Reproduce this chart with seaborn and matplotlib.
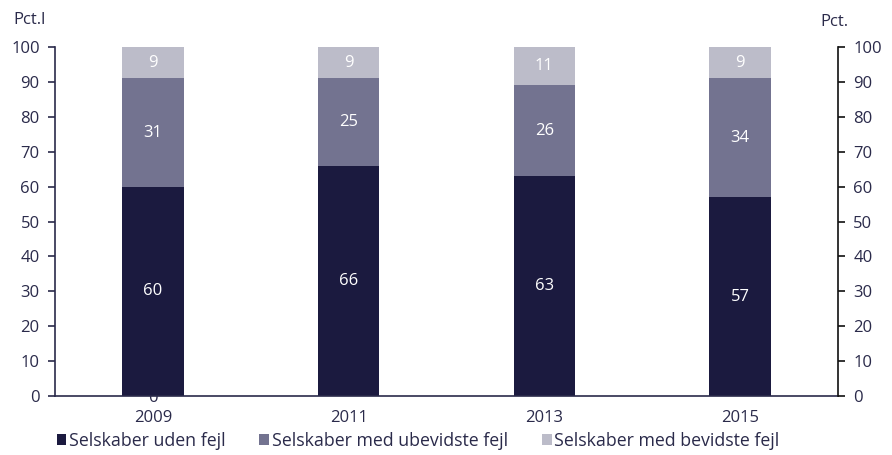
import matplotlib
matplotlib.use("Agg")
import matplotlib.pyplot as plt
import seaborn as sns
import pandas as pd
from matplotlib.patches import Patch

years = ["2009", "2011", "2013", "2015"]
uden_fejl = [60, 66, 63, 57]
ubevidste_fejl = [31, 25, 26, 34]
bevidste_fejl = [9, 9, 11, 9]
series_names = ["Selskaber uden fejl", "Selskaber med ubevidste fejl", "Selskaber med bevidste fejl"]
yticks = [0, 10, 20, 30, 40, 50, 60, 70, 80, 90, 100]

colors = ["#1b1a3f", "#737390", "#bcbcc9"]
text_col = "#2a2a4a"
fs = 12

sns.set_theme(style="white")
plt.rcParams["font.family"] = ["Open Sans", "DejaVu Sans"]

fig = plt.figure(figsize=(8.92, 4.55), dpi=100)
ax = fig.add_axes([55 / 892, 1 - 396 / 455, (838 - 55) / 892, (396 - 47) / 455])

df = pd.DataFrame({"year": years, "a": uden_fejl, "b": ubevidste_fejl, "c": bevidste_fejl})
df["ab"] = df["a"] + df["b"]
df["abc"] = df["ab"] + df["c"]

width = 0.315
# stacked bars drawn back to front as cumulative totals
for col, c in zip(["abc", "ab", "a"], colors[::-1]):
    sns.barplot(data=df, x="year", y=col, color=c, width=width, ax=ax,
                saturation=1, edgecolor="none", zorder=2)

# zero label peeking below the first bar
ax.text(0, -0.5, "0", ha="center", va="center", fontsize=fs, color=text_col, zorder=1,
        clip_on=False)

for i in range(len(years)):
    a, b, c = uden_fejl[i], ubevidste_fejl[i], bevidste_fejl[i]
    ax.text(i, a / 2, f"{a}", ha="center", va="center", color="white", fontsize=fs, zorder=3)
    ax.text(i, a + b / 2, f"{b}", ha="center", va="center", color="white", fontsize=fs, zorder=3)
    ax.text(i, a + b + c / 2, f"{c}", ha="center", va="center", color="white", fontsize=fs, zorder=3)

ax.set_xlim(-0.5, 3.5)
ax.set_ylim(0, 100)
ax.set_xlabel("")
ax.set_ylabel("")
ax.set_yticks(yticks)
ax.tick_params(axis="y", which="both", left=True, length=5, width=1.2,
               color=text_col, labelsize=fs, labelcolor=text_col, pad=6)
ax.tick_params(axis="x", bottom=False, labelsize=fs, labelcolor=text_col, pad=4)

for s in ["top", "right"]:
    ax.spines[s].set_visible(False)
ax.spines["left"].set_color(text_col)
ax.spines["left"].set_linewidth(1.2)
ax.spines["bottom"].set_color(text_col)
ax.spines["bottom"].set_linewidth(1.2)

ax2 = ax.twinx()
ax2.set_ylim(0, 100)
ax2.set_yticks(yticks)
ax2.tick_params(axis="y", right=True, length=5, width=1.2, color="#111111",
                labelsize=fs, labelcolor=text_col, pad=6)
for s in ["top", "left", "bottom"]:
    ax2.spines[s].set_visible(False)
ax2.spines["right"].set_color("#111111")
ax2.spines["right"].set_linewidth(1.2)

fig.text(13 / 892, 1 - 20 / 455, "Pct.l", fontsize=fs, color=text_col, va="center", ha="left")
fig.text(820 / 892, 1 - 22 / 455, "Pct.", fontsize=fs, color=text_col, va="center", ha="left")

handles = [Patch(facecolor=c, edgecolor="none") for c in colors]
fig.legend(handles, series_names, loc="center left", bbox_to_anchor=(53 / 892, 1 - 441 / 455),
           ncol=3, frameon=False, fontsize=12.8, labelcolor=text_col,
           handlelength=0.55, handleheight=0.55, handletextpad=0.15, columnspacing=1.9,
           borderaxespad=0, borderpad=0.2)

fig.savefig("out.png", dpi=100)
